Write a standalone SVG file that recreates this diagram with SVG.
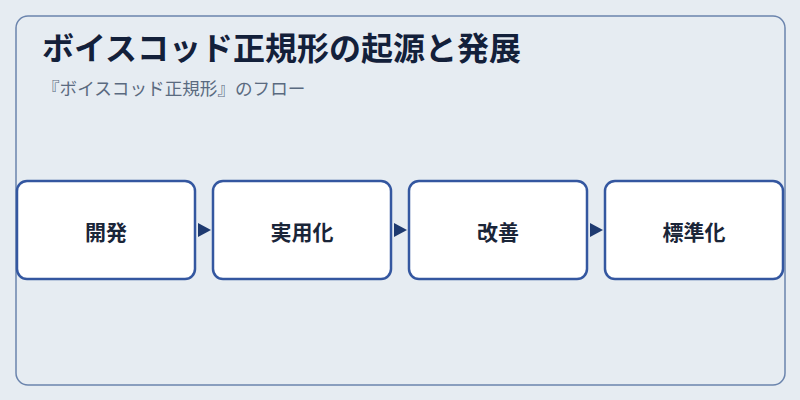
<svg xmlns="http://www.w3.org/2000/svg" width="800" height="400" viewBox="0 0 800 400">
<style>
.t{font-family:"Noto Sans CJK JP","Noto Sans",sans-serif}
.node rect{fill:#ffffff;stroke:#3457a0;stroke-width:2.5}
.node text{font-family:"Noto Sans CJK JP","Noto Sans",sans-serif;font-size:21px;font-weight:700;fill:#1a2538;text-anchor:middle}
.arrow{fill:#1e3a70}
</style>
<rect x="0" y="0" width="800" height="400" fill="#e6ecf2"/>
<rect x="16" y="16" width="769" height="369" rx="12" fill="#e6ecf2" stroke="#6b84ad" stroke-width="1.5"/>
<text class="t" x="42" y="60" font-size="32" font-weight="700" fill="#13203a">ボイスコッド正規形の起源と発展</text>
<text class="t" x="42" y="95" font-size="17.6" fill="#5a6a80">『ボイスコッド正規形』のフロー</text>
<g id="connectors">
<polygon class="arrow" points="198,223 211,230 198,237"/>
<polygon class="arrow" points="394,223 407,230 394,237"/>
<polygon class="arrow" points="590,223 603,230 590,237"/>
</g>
<g id="n1" class="node"><rect x="17" y="181" width="178" height="98" rx="10"/><text x="106" y="240">開発</text></g>
<g id="n2" class="node"><rect x="213" y="181" width="178" height="98" rx="10"/><text x="302" y="240">実用化</text></g>
<g id="n3" class="node"><rect x="409" y="181" width="178" height="98" rx="10"/><text x="498" y="240">改善</text></g>
<g id="n4" class="node"><rect x="605" y="181" width="178" height="98" rx="10"/><text x="694" y="240">標準化</text></g>
</svg>
